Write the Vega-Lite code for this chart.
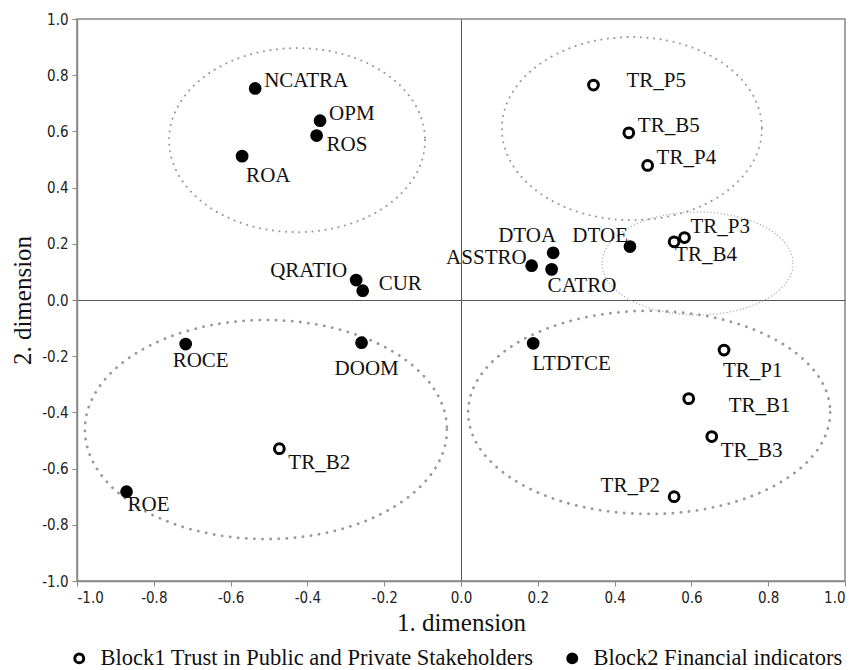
{
  "$schema": "https://vega.github.io/schema/vega-lite/v6.json",
  "width": 768,
  "height": 562,
  "autosize": {"type": "none"},
  "padding": {"left": 77, "top": 19, "right": 16, "bottom": 89},
  "background": "white",
  "config": {
    "view": {"stroke": "#888888", "strokeWidth": 1.5},
    "axis": {
      "domainColor": "#888888",
      "domainWidth": 1.5,
      "tickColor": "#888888",
      "tickSize": 5,
      "labelFont": "Liberation Sans Narrow, DejaVu Sans Condensed, sans-serif",
      "labelFontSize": 15,
      "labelColor": "#222222",
      "labelPadding": 4,
      "titleFont": "Liberation Serif",
      "titleFontSize": 25,
      "titleFontWeight": "normal",
      "titleColor": "#111111",
      "tickCount": 10,
      "grid": true,
      "gridColor": {"condition": {"test": "datum.value === 0", "value": "#555555"}, "value": "transparent"},
      "gridWidth": 1
    },
    "legend": {
      "orient": "none",
      "legendX": -9,
      "legendY": 628,
      "direction": "horizontal",
      "labelFont": "Liberation Serif",
      "labelFontSize": 22.5,
      "labelColor": "#111111",
      "labelOffset": 10,
      "columnPadding": 27,
      "symbolSize": 80,
      "symbolStrokeColor": "black",
      "symbolStrokeWidth": 3,
      "labelLimit": 600
    }
  },
  "data": {
    "values": [
      {"label": "NCATRA", "x": -0.536, "y": 0.753, "block": "Block2 Financial indicators"},
      {"label": "OPM", "x": -0.367, "y": 0.638, "block": "Block2 Financial indicators"},
      {"label": "ROS", "x": -0.376, "y": 0.585, "block": "Block2 Financial indicators"},
      {"label": "ROA", "x": -0.570, "y": 0.512, "block": "Block2 Financial indicators"},
      {"label": "QRATIO", "x": -0.273, "y": 0.071, "block": "Block2 Financial indicators"},
      {"label": "CUR", "x": -0.256, "y": 0.033, "block": "Block2 Financial indicators"},
      {"label": "ROCE", "x": -0.717, "y": -0.157, "block": "Block2 Financial indicators"},
      {"label": "DOOM", "x": -0.259, "y": -0.152, "block": "Block2 Financial indicators"},
      {"label": "TR_B2", "x": -0.473, "y": -0.529, "block": "Block1 Trust in Public and Private Stakeholders"},
      {"label": "ROE", "x": -0.871, "y": -0.682, "block": "Block2 Financial indicators"},
      {"label": "LTDTCE", "x": 0.188, "y": -0.154, "block": "Block2 Financial indicators"},
      {"label": "TR_P1", "x": 0.685, "y": -0.178, "block": "Block1 Trust in Public and Private Stakeholders"},
      {"label": "TR_B1", "x": 0.593, "y": -0.351, "block": "Block1 Trust in Public and Private Stakeholders"},
      {"label": "TR_B3", "x": 0.653, "y": -0.486, "block": "Block1 Trust in Public and Private Stakeholders"},
      {"label": "TR_P2", "x": 0.555, "y": -0.700, "block": "Block1 Trust in Public and Private Stakeholders"},
      {"label": "TR_P5", "x": 0.345, "y": 0.765, "block": "Block1 Trust in Public and Private Stakeholders"},
      {"label": "TR_B5", "x": 0.437, "y": 0.595, "block": "Block1 Trust in Public and Private Stakeholders"},
      {"label": "TR_P4", "x": 0.486, "y": 0.479, "block": "Block1 Trust in Public and Private Stakeholders"},
      {"label": "TR_P3", "x": 0.582, "y": 0.222, "block": "Block1 Trust in Public and Private Stakeholders"},
      {"label": "TR_B4", "x": 0.555, "y": 0.207, "block": "Block1 Trust in Public and Private Stakeholders"},
      {"label": "DTOE", "x": 0.440, "y": 0.190, "block": "Block2 Financial indicators"},
      {"label": "DTOA", "x": 0.240, "y": 0.168, "block": "Block2 Financial indicators"},
      {"label": "ASSTRO", "x": 0.184, "y": 0.122, "block": "Block2 Financial indicators"},
      {"label": "CATRO", "x": 0.236, "y": 0.109, "block": "Block2 Financial indicators"}
    ]
  },
  "encoding": {
    "x": {
      "field": "x", "type": "quantitative", "title": "1. dimension",
      "scale": {"domain": [-1, 1], "nice": false, "zero": false},
      "axis": {"format": ".1f", "labelExpr": "replace(datum.label, '\u2212', '-')", "titlePadding": 5}
    },
    "y": {
      "field": "y", "type": "quantitative", "title": "2. dimension",
      "scale": {"domain": [-1, 1], "nice": false, "zero": false},
      "axis": {"format": ".1f", "labelExpr": "replace(datum.label, '\u2212', '-')", "titlePadding": 6}
    }
  },
  "layer": [
    {
      "data": {"values": [{"x": -0.427, "y": 0.569}]},
      "mark": {"type": "point", "filled": false, "shape": "M 1 0 C 1 0.397 0.552 0.719 0 0.719 C -0.552 0.719 -1 0.397 -1 0 C -1 -0.397 -0.552 -0.719 0 -0.719 C 0.552 -0.719 1 -0.397 1 0 Z", "size": 65536, "stroke": "#999999", "strokeWidth": 2, "strokeDash": [0.1, 6.5], "strokeCap": "round", "opacity": 1}
    },
    {
      "data": {"values": [{"x": 0.445, "y": 0.610}]},
      "mark": {"type": "point", "filled": false, "shape": "M 1 0 C 1 0.389 0.552 0.704 0 0.704 C -0.552 0.704 -1 0.389 -1 0 C -1 -0.389 -0.552 -0.704 0 -0.704 C 0.552 -0.704 1 -0.389 1 0 Z", "size": 67600, "stroke": "#999999", "strokeWidth": 2, "strokeDash": [0.1, 6.5], "strokeCap": "round", "opacity": 1}
    },
    {
      "data": {"values": [{"x": 0.616, "y": 0.130}]},
      "mark": {"type": "point", "filled": false, "shape": "M 1 0 C 1 0.298 0.552 0.539 0 0.539 C -0.552 0.539 -1 0.298 -1 0 C -1 -0.298 -0.552 -0.539 0 -0.539 C 0.552 -0.539 1 -0.298 1 0 Z", "size": 36481, "stroke": "#aaaaaa", "strokeWidth": 1.3, "strokeDash": [0.1, 3.3], "strokeCap": "round", "opacity": 1}
    },
    {
      "data": {"values": [{"x": -0.508, "y": -0.461}]},
      "mark": {"type": "point", "filled": false, "shape": "M 1 0 C 1 0.334 0.552 0.605 0 0.605 C -0.552 0.605 -1 0.334 -1 0 C -1 -0.334 -0.552 -0.605 0 -0.605 C 0.552 -0.605 1 -0.334 1 0 Z", "size": 131044, "stroke": "#999999", "strokeWidth": 2.8, "strokeDash": [0.1, 8], "strokeCap": "round", "opacity": 1}
    },
    {
      "data": {"values": [{"x": 0.490, "y": -0.400}]},
      "mark": {"type": "point", "filled": false, "shape": "M 1 0 C 1 0.310 0.552 0.561 0 0.561 C -0.552 0.561 -1 0.310 -1 0 C -1 -0.310 -0.552 -0.561 0 -0.561 C 0.552 -0.561 1 -0.310 1 0 Z", "size": 131044, "stroke": "#999999", "strokeWidth": 2.8, "strokeDash": [0.1, 8], "strokeCap": "round", "opacity": 1}
    },
    {
      "transform": [{"filter": {"field": "label", "oneOf": ["NCATRA", "OPM", "TR_B5", "TR_P4"]}}],
      "mark": {"type": "text", "align": "left", "baseline": "middle", "dx": 9, "dy": -7, "font": "Liberation Serif", "fontSize": 21, "color": "#111111"},
      "encoding": {"text": {"field": "label"}}
    },
    {
      "transform": [{"filter": {"field": "label", "oneOf": ["TR_B2", "TR_B3"]}}],
      "mark": {"type": "text", "align": "left", "baseline": "middle", "dx": 9, "dy": 14, "font": "Liberation Serif", "fontSize": 21, "color": "#111111"},
      "encoding": {"text": {"field": "label"}}
    },
    {
      "transform": [{"filter": {"field": "label", "oneOf": ["ROS"]}}],
      "mark": {"type": "text", "align": "left", "baseline": "middle", "dx": 10, "dy": 9, "font": "Liberation Serif", "fontSize": 21, "color": "#111111"},
      "encoding": {"text": {"field": "label"}}
    },
    {
      "transform": [{"filter": {"field": "label", "oneOf": ["ROE", "TR_B4"]}}],
      "mark": {"type": "text", "align": "left", "baseline": "middle", "dx": 1, "dy": 13, "font": "Liberation Serif", "fontSize": 21, "color": "#111111"},
      "encoding": {"text": {"field": "label"}}
    },
    {
      "transform": [{"filter": {"field": "label", "oneOf": ["LTDTCE", "TR_P1"]}}],
      "mark": {"type": "text", "align": "left", "baseline": "middle", "dx": -1, "dy": 21, "font": "Liberation Serif", "fontSize": 21, "color": "#111111"},
      "encoding": {"text": {"field": "label"}}
    },
    {
      "transform": [{"filter": {"field": "label", "oneOf": ["ROA"]}}],
      "mark": {"type": "text", "align": "left", "baseline": "middle", "dx": 4, "dy": 20, "font": "Liberation Serif", "fontSize": 21, "color": "#111111"},
      "encoding": {"text": {"field": "label"}}
    },
    {
      "transform": [{"filter": {"field": "label", "oneOf": ["CUR"]}}],
      "mark": {"type": "text", "align": "left", "baseline": "middle", "dx": 16, "dy": -7, "font": "Liberation Serif", "fontSize": 21, "color": "#111111"},
      "encoding": {"text": {"field": "label"}}
    },
    {
      "transform": [{"filter": {"field": "label", "oneOf": ["ROCE"]}}],
      "mark": {"type": "text", "align": "left", "baseline": "middle", "dx": -13, "dy": 17, "font": "Liberation Serif", "fontSize": 21, "color": "#111111"},
      "encoding": {"text": {"field": "label"}}
    },
    {
      "transform": [{"filter": {"field": "label", "oneOf": ["DOOM"]}}],
      "mark": {"type": "text", "align": "left", "baseline": "middle", "dx": -27, "dy": 26, "font": "Liberation Serif", "fontSize": 21, "color": "#111111"},
      "encoding": {"text": {"field": "label"}}
    },
    {
      "transform": [{"filter": {"field": "label", "oneOf": ["TR_B1"]}}],
      "mark": {"type": "text", "align": "left", "baseline": "middle", "dx": 40, "dy": 7.5, "font": "Liberation Serif", "fontSize": 21, "color": "#111111"},
      "encoding": {"text": {"field": "label"}}
    },
    {
      "transform": [{"filter": {"field": "label", "oneOf": ["TR_P5"]}}],
      "mark": {"type": "text", "align": "left", "baseline": "middle", "dx": 33, "dy": -4.5, "font": "Liberation Serif", "fontSize": 21, "color": "#111111"},
      "encoding": {"text": {"field": "label"}}
    },
    {
      "transform": [{"filter": {"field": "label", "oneOf": ["TR_P3"]}}],
      "mark": {"type": "text", "align": "left", "baseline": "middle", "dx": 6, "dy": -11, "font": "Liberation Serif", "fontSize": 21, "color": "#111111"},
      "encoding": {"text": {"field": "label"}}
    },
    {
      "transform": [{"filter": {"field": "label", "oneOf": ["CATRO"]}}],
      "mark": {"type": "text", "align": "left", "baseline": "middle", "dx": -4, "dy": 16.5, "font": "Liberation Serif", "fontSize": 21, "color": "#111111"},
      "encoding": {"text": {"field": "label"}}
    },
    {
      "transform": [{"filter": {"field": "label", "oneOf": ["QRATIO"]}}],
      "mark": {"type": "text", "align": "right", "baseline": "middle", "dx": -9, "dy": -9, "font": "Liberation Serif", "fontSize": 21, "color": "#111111"},
      "encoding": {"text": {"field": "label"}}
    },
    {
      "transform": [{"filter": {"field": "label", "oneOf": ["TR_P2"]}}],
      "mark": {"type": "text", "align": "right", "baseline": "middle", "dx": -14, "dy": -11, "font": "Liberation Serif", "fontSize": 21, "color": "#111111"},
      "encoding": {"text": {"field": "label"}}
    },
    {
      "transform": [{"filter": {"field": "label", "oneOf": ["DTOE"]}}],
      "mark": {"type": "text", "align": "right", "baseline": "middle", "dx": -2, "dy": -10.5, "font": "Liberation Serif", "fontSize": 21, "color": "#111111"},
      "encoding": {"text": {"field": "label"}}
    },
    {
      "transform": [{"filter": {"field": "label", "oneOf": ["DTOA"]}}],
      "mark": {"type": "text", "align": "right", "baseline": "middle", "dx": 3, "dy": -16.5, "font": "Liberation Serif", "fontSize": 21, "color": "#111111"},
      "encoding": {"text": {"field": "label"}}
    },
    {
      "transform": [{"filter": {"field": "label", "oneOf": ["ASSTRO"]}}],
      "mark": {"type": "text", "align": "right", "baseline": "middle", "dx": -5, "dy": -8, "font": "Liberation Serif", "fontSize": 21, "color": "#111111"},
      "encoding": {"text": {"field": "label"}}
    },
    {
      "mark": {"type": "point", "filled": true, "shape": "circle", "size": 95, "stroke": "black", "strokeWidth": 3, "opacity": 1},
      "encoding": {
        "fill": {
          "field": "block", "type": "nominal", "title": null,
          "scale": {"domain": ["Block1 Trust in Public and Private Stakeholders", "Block2 Financial indicators"], "range": ["white", "black"]}
        }
      }
    }
  ]
}
